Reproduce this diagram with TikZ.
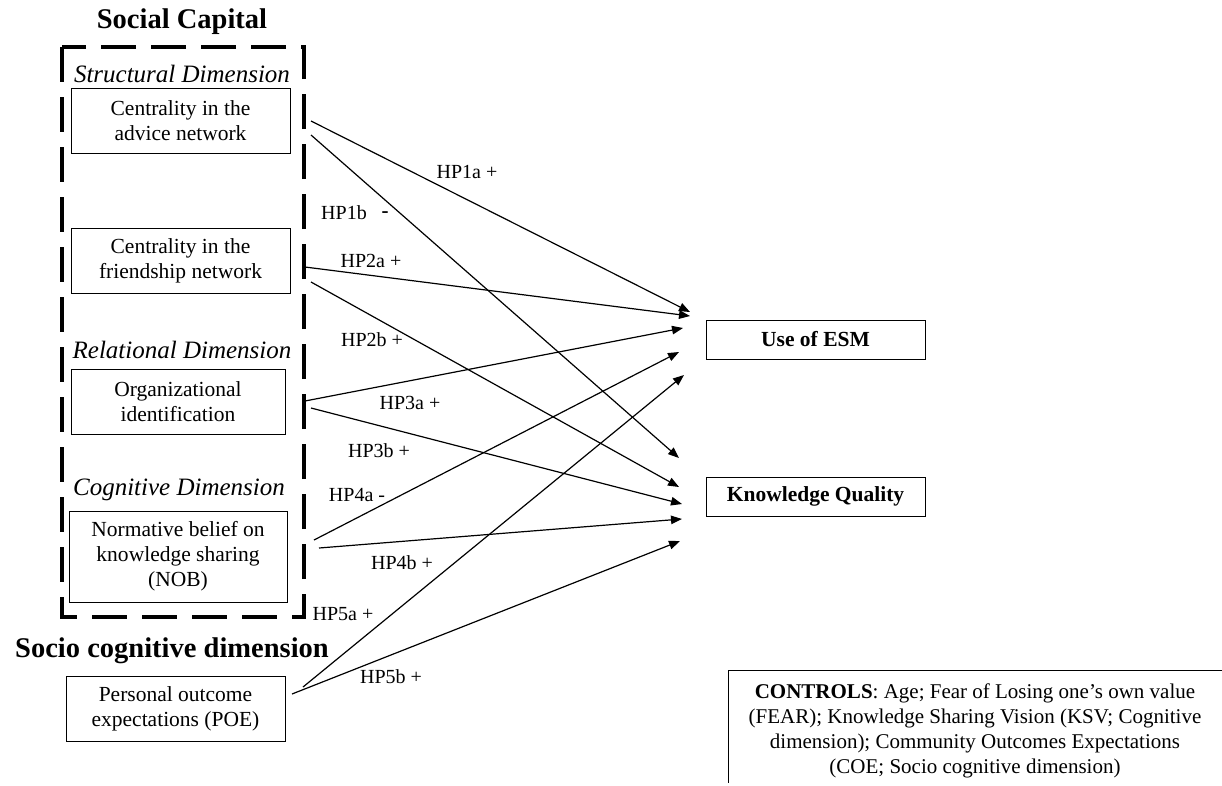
\documentclass[tikz,border=0pt]{standalone}
\usepackage{fontspec}
\setmainfont{Liberation Serif}
\usetikzlibrary{arrows.meta}
\begin{document}
\begin{tikzpicture}[x=1pt,y=-1pt,
  box/.style={draw,line width=1pt,inner sep=0pt,align=center,font=\fontsize{21.5}{25}\selectfont},
  outbox/.style={box,font=\fontsize{21.5}{25}\selectfont\bfseries,minimum width=219pt,minimum height=39pt},
  dimlabel/.style={inner sep=0pt,font=\fontsize{25}{28}\selectfont\itshape},
  titlelabel/.style={inner sep=0pt,font=\fontsize{28.5}{32}\selectfont\bfseries},
  hp/.style={inner sep=0pt,font=\fontsize{20}{23}\selectfont},
  arr/.style={line width=1.2pt,-{Triangle[length=11pt,width=8.5pt]}},
  dashbox/.style={line width=4pt,dash pattern=on 35pt off 15pt}]
\useasboundingbox[fill=white] (0,0) rectangle (1222,785);

% titles and dimension labels
\node[titlelabel] (sc) at (182,22) {Social Capital};
\node[dimlabel] (struct) at (182,74) {Structural Dimension};
\node[dimlabel] (rel) at (182,350) {Relational Dimension};
\node[dimlabel] (cog) at (179,490) {Cognitive Dimension};
\node[titlelabel] (socio) at (172,651) {Socio cognitive dimension};

% dashed social capital frame
\draw[dashbox] (62,47) rectangle (304,617);

% source boxes
\node[box,minimum width=219pt,minimum height=65pt] (b1) at (180.5,120.5) {Centrality in the\\advice network};
\node[box,minimum width=219pt,minimum height=65pt] (b2) at (180.5,260.5) {Centrality in the\\friendship network};
\node[box,minimum width=214pt,minimum height=65pt] (b3) at (178,401.5) {Organizational\\identification};
\node[box,minimum width=218pt,minimum height=91pt] (b4) at (178,556.5) {Normative belief on\\knowledge sharing\\(NOB)};
\node[box,minimum width=219pt,minimum height=65pt] (b5) at (175.5,708.5) {Personal outcome\\expectations (POE)};

% outcome boxes
\node[outbox] (esm) at (815.5,339.5) {Use of ESM};
\node[outbox] (kq) at (815.5,496.5) {Knowledge Quality};

% connector end points
\coordinate (s1a) at (311,121);
\coordinate (s1b) at (311,135);
\coordinate (s2a) at (305,267);
\coordinate (s2b) at (311,282);
\coordinate (s3a) at (305,401);
\coordinate (s3b) at (311,408);
\coordinate (s4a) at (314,540);
\coordinate (s4b) at (319,548);
\coordinate (s5a) at (303,687);
\coordinate (s5b) at (292,694);

\coordinate (e1a) at (690,312);
\coordinate (e2a) at (690,316);
\coordinate (e3a) at (683,328);
\coordinate (e4a) at (679,352);
\coordinate (e5a) at (684,375);
\coordinate (e1b) at (679,458);
\coordinate (e2b) at (679,487);
\coordinate (e3b) at (682,504);
\coordinate (e4b) at (682,519);
\coordinate (e5b) at (680,541);

\draw[arr] (s1a) -- (e1a);
\draw[arr] (s1b) -- (e1b);
\draw[arr] (s2a) -- (e2a);
\draw[arr] (s2b) -- (e2b);
\draw[arr] (s3a) -- (e3a);
\draw[arr] (s3b) -- (e3b);
\draw[arr] (s4a) -- (e4a);
\draw[arr] (s4b) -- (e4b);
\draw[arr] (s5a) -- (e5a);
\draw[arr] (s5b) -- (e5b);

% hypothesis labels
\node[hp] (l1a) at (467,172) {HP1a +};
\node[hp] (l1b) at (344,213) {HP1b};
\node[hp,anchor=base,font=\fontsize{21}{23}\selectfont\bfseries] (l1bs) at (385,217) {-};
\node[hp] (l2a) at (371,261) {HP2a +};
\node[hp] (l2b) at (372,340) {HP2b +};
\node[hp] (l3a) at (410,403) {HP3a +};
\node[hp] (l3b) at (379,451) {HP3b +};
\node[hp] (l4a) at (357,495) {HP4a -};
\node[hp] (l4b) at (402,563) {HP4b +};
\node[hp] (l5a) at (343,614) {HP5a +};
\node[hp] (l5b) at (391,677) {HP5b +};

% controls box (cut by the picture edge)
\coordinate (c1) at (1222,670);
\coordinate (c2) at (728,670);
\coordinate (c3) at (728,783);
\draw[line width=1pt] (c1) -- (c2) -- (c3);
\node[inner sep=0pt,align=center,font=\fontsize{21}{24.8}\selectfont] (ctrl) at (975,731)
  {\textbf{CONTROLS}: Age; Fear of Losing one’s own value\\(FEAR); Knowledge Sharing Vision (KSV; Cognitive\\dimension); Community Outcomes Expectations\\(COE; Socio cognitive dimension)};
\end{tikzpicture}
\end{document}
